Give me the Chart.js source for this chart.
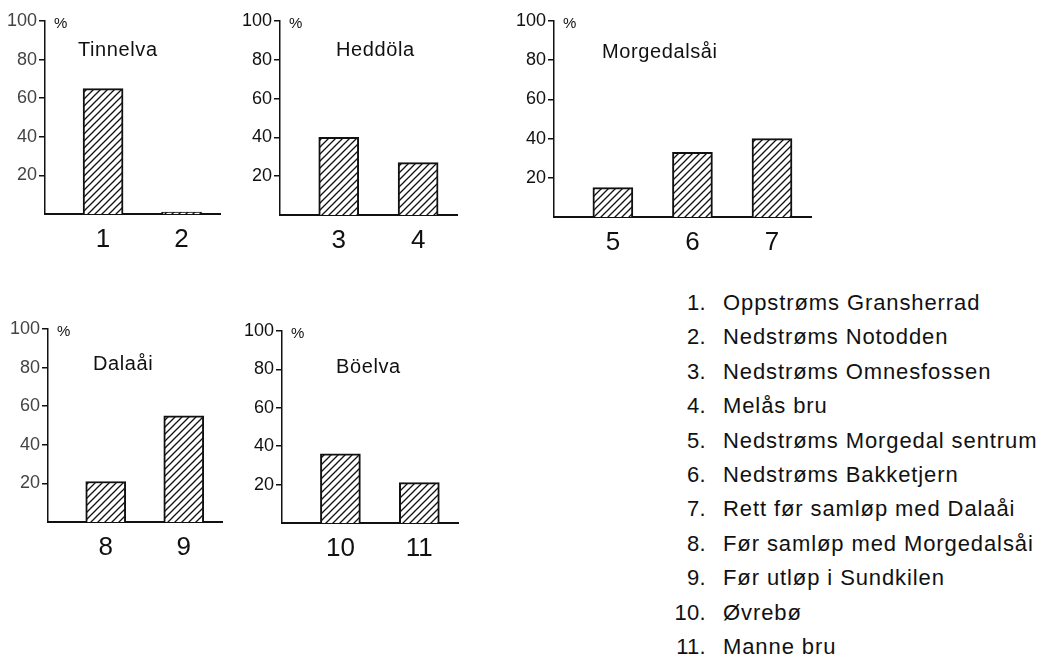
<!DOCTYPE html>
<html>
<head>
<meta charset="utf-8">
<script src="https://cdn.jsdelivr.net/npm/chart.js@4.4.1/dist/chart.umd.min.js"></script>
<style>
  body { margin: 0; background: #fff; width: 1043px; height: 655px; position: relative; overflow: hidden;
         font-family: "Liberation Sans", Arial, sans-serif; color: #111; }
  .panel { position: absolute; }
  .num, .name { position: absolute; font-size: 22px; line-height: 26px; white-space: nowrap; }
  .name { letter-spacing: 0.9px; }
  .num { text-align: right; width: 60px; letter-spacing: 0.3px; }
</style>
</head>
<body>
<script>
const rivers = ["Tinnelva", "Heddöla", "Morgedalsåi", "Dalaåi", "Böelva"];
const riverSites = [[1, 2], [3, 4], [5, 6, 7], [8, 9], [10, 11]];
const siteValues = [65, 1, 40, 27, 15, 33, 40, 21, 55, 36, 21];
const siteNames = [
  "Oppstrøms Gransherrad",
  "Nedstrøms Notodden",
  "Nedstrøms Omnesfossen",
  "Melås bru",
  "Nedstrøms Morgedal sentrum",
  "Nedstrøms Bakketjern",
  "Rett før samløp med Dalaåi",
  "Før samløp med Morgedalsåi",
  "Før utløp i Sundkilen",
  "Øvrebø",
  "Manne bru"
];
const yTicks = [20, 40, 60, 80, 100];

// where each little plot sits on the page (axis corner, top of scale, title offset)
const panels = [
  { left: 45, right: 220, top: 21, bottom: 214, tx: 33, ty: 29, faint: true },
  { left: 280, right: 457, top: 21, bottom: 215, tx: 56, ty: 29 },
  { left: 554, right: 811, top: 21, bottom: 217, tx: 48, ty: 31 },
  { left: 48, right: 222, top: 329, bottom: 522, tx: 45, ty: 35, faint: true },
  { left: 282, right: 458, top: 331, bottom: 523, tx: 54, ty: 36 }
];

const FONT = '"Liberation Sans", Arial, sans-serif';
const YW = 50, PT = 15, PR = 10, XH = 45;

const hatch = () => {
  const tile = document.createElement("canvas");
  tile.width = 7;
  tile.height = 7;
  const g = tile.getContext("2d");
  g.fillStyle = "#fff";
  g.fillRect(0, 0, 7, 7);
  g.strokeStyle = "#111";
  g.lineWidth = 1.3;
  g.beginPath();
  g.moveTo(0, 7); g.lineTo(7, 0);
  g.moveTo(-1, 1); g.lineTo(1, -1);
  g.moveTo(6, 8); g.lineTo(8, 6);
  g.stroke();
  return g.createPattern(tile, "repeat");
};

const panelText = {
  id: "panelText",
  afterDraw(chart, args, opts) {
    const { ctx, chartArea } = chart;
    ctx.save();
    ctx.fillStyle = "#111";
    ctx.textBaseline = "middle";
    ctx.font = "20px " + FONT;
    ctx.letterSpacing = "0.6px";
    ctx.fillText(opts.title, chartArea.left + opts.dx, chartArea.top + opts.dy);
    ctx.letterSpacing = "0px";
    ctx.font = "15px " + FONT;
    ctx.fillText("%", chartArea.left + 9, chartArea.top + 3);
    ctx.restore();
  }
};

const drawPanel = (p, i) => {
  const sites = riverSites[i];
  const div = document.createElement("div");
  div.className = "panel";
  const w = YW + (p.right - p.left) + PR;
  const h = PT + (p.bottom - p.top) + XH;
  div.style.left = p.left - YW + "px";
  div.style.top = p.top - PT + "px";
  div.style.width = w + "px";
  div.style.height = h + "px";
  const canvas = document.createElement("canvas");
  div.appendChild(canvas);
  document.body.appendChild(div);

  new Chart(canvas, {
    type: "bar",
    data: {
      datasets: [
        {
          data: sites.map((s) => ({ x: s, y: siteValues[s - 1] })),
          backgroundColor: hatch(),
          borderColor: "#111",
          borderWidth: 2,
          barThickness: 40
        }
      ]
    },
    options: {
      responsive: true,
      maintainAspectRatio: false,
      animation: false,
      layout: { padding: { top: PT, right: PR, left: 0, bottom: 0 } },
      plugins: {
        legend: { display: false },
        tooltip: { enabled: false },
        panelText: { title: rivers[i], dx: p.tx, dy: p.ty }
      },
      scales: {
        x: {
          type: "linear",
          offset: false,
          min: sites[0] - 0.74,
          max: sites[sites.length - 1] + 0.49,
          afterBuildTicks: (scale) => {
            scale.ticks = sites.map((s) => ({ value: s }));
          },
          afterFit: (scale) => {
            scale.height = XH;
          },
          grid: { display: false, drawTicks: false, offset: false },
          border: { display: true, color: "#111", width: 2 },
          ticks: {
            autoSkip: false,
            maxRotation: 0,
            padding: 10,
            color: "#111",
            font: { family: FONT, size: 26 },
            callback: (v) => String(v)
          }
        },
        y: {
          min: 0,
          max: 100,
          afterBuildTicks: (scale) => {
            scale.ticks = yTicks.map((v) => ({ value: v }));
          },
          afterFit: (scale) => {
            scale.width = YW;
          },
          grid: { drawOnChartArea: false, drawTicks: true, tickLength: 6, color: "#111", lineWidth: 1.5 },
          border: { display: true, color: "#111", width: 1.5 },
          ticks: {
            padding: 2,
            color: p.faint ? "#444" : "#111",
            font: { family: FONT, size: 18 }
          }
        }
      }
    },
    plugins: [panelText]
  });
};

panels.forEach(drawPanel);

// numbered key of the sampling sites
siteNames.forEach((name, i) => {
  const y = 303 + i * 34.4 - 13;
  const num = document.createElement("div");
  num.className = "num";
  num.style.left = 706 - 60 + "px";
  num.style.top = y + "px";
  num.textContent = i + 1 + ".";
  const txt = document.createElement("div");
  txt.className = "name";
  txt.style.left = "723px";
  txt.style.top = y + "px";
  txt.textContent = name;
  document.body.appendChild(num);
  document.body.appendChild(txt);
});
</script>
</body>
</html>
